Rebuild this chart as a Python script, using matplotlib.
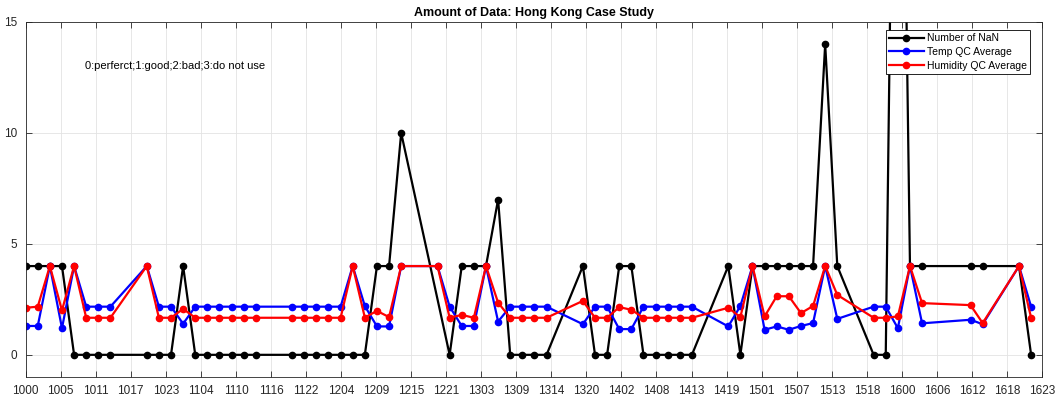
import numpy as np
import matplotlib
matplotlib.use('Agg')
import matplotlib.pyplot as plt

plt.rcParams['font.family'] = ['Liberation Sans', 'DejaVu Sans']

# hours since day 10 00:00
hours = [0, 2, 4, 6, 8, 10, 12, 14, 20, 22, 24, 26, 28, 30, 32, 34, 36, 38,
         44, 46, 48, 50, 52, 54, 56, 58, 60, 62, 68, 70, 72, 74, 76, 78, 80,
         82, 84, 86, 92, 94, 96, 98, 100, 102, 104, 106, 108, 110, 116, 118,
         120, 122, 124, 126, 128, 130, 132, 134, 140, 142, 144, 146, 148,
         156, 158, 164, 166]

nan_count = [4, 4, 4, 4, 0, 0, 0, 0, 0, 0, 0, 4, 0, 0, 0, 0, 0, 0,
             0, 0, 0, 0, 0, 0, 0, 4, 4, 10, np.nan, 0, 4, 4, 4, 7, 0,
             0, 0, 0, 4, 0, 0, 4, 4, 0, 0, 0, 0, 0, 4, 0,
             4, 4, 4, 4, 4, 4, 14, 4, 0, 0, 43, 4, 4,
             4, 4, 4, 0]

temp_qc = [1.3, 1.3, 4, 1.2, 4, 2.17, 2.17, 2.17, 4, 2.17, 2.17, 1.4, 2.17, 2.17, 2.17, 2.17, 2.17, 2.17,
           2.17, 2.17, 2.17, 2.17, 2.17, 4, 2.2, 1.28, 1.28, 4, 4, 2.17, 1.3, 1.3, 4, 1.5, 2.17,
           2.17, 2.17, 2.17, 1.38, 2.17, 2.17, 1.16, 1.16, 2.17, 2.17, 2.17, 2.17, 2.17, 1.28, 2.2,
           4, 1.13, 1.28, 1.13, 1.3, 1.43, 4, 1.62, 2.17, 2.17, 1.2, 4, 1.42,
           1.58, 1.38, 4, 2.17]

hum_qc = [2.12, 2.17, 4, 2.0, 4, 1.67, 1.67, 1.67, 4, 1.67, 1.67, 2.07, 1.67, 1.67, 1.67, 1.67, 1.67, 1.67,
          1.67, 1.67, 1.67, 1.67, 1.67, 4, 1.68, 1.98, 1.7, 4, 4, 1.67, 1.8, 1.67, 4, 2.35, 1.67,
          1.67, 1.67, 1.67, 2.43, 1.67, 1.67, 2.15, 2.03, 1.67, 1.67, 1.67, 1.67, 1.67, 2.12, 1.7,
          4, 1.73, 2.64, 2.64, 1.88, 2.2, 4, 2.7, 1.67, 1.67, 1.73, 4, 2.33,
          2.24, 1.43, 4, 1.67]

tick_labels = ['1000', '1005', '1011', '1017', '1023', '1104', '1110', '1116',
               '1122', '1204', '1209', '1215', '1221', '1303', '1309', '1314',
               '1320', '1402', '1408', '1413', '1419', '1501', '1507', '1513',
               '1518', '1600', '1606', '1612', '1618', '1623']

x_end = 167.8

fig = plt.figure(figsize=(10.55, 3.99), dpi=100)
ax = fig.add_axes([0.0243, 0.0551, 0.9634, 0.8898])

# skip the missing count so the line joins its neighbours
h = np.array(hours, dtype=float)
n = np.array(nan_count, dtype=float)
ok = ~np.isnan(n)

ax.plot(h[ok], n[ok], '-o', color='k', lw=1.6, ms=4.5, label='Number of NaN')
ax.plot(hours, temp_qc, '-o', color='#0000ff', lw=1.6, ms=4.5, label='Temp QC Average')
ax.plot(hours, hum_qc, '-o', color='#ff0000', lw=1.6, ms=4.5, label='Humidity QC Average')

ax.set_xlim(0, x_end)
ax.set_ylim(-1, 15)
ax.set_xticks(np.linspace(0, x_end, len(tick_labels)))
ax.set_xticklabels(tick_labels)
ax.set_yticks([0, 5, 10, 15])

ax.grid(True, color='#e3e3e3', lw=0.6)
ax.set_axisbelow(True)
ax.tick_params(direction='in', length=4, width=0.6, colors='#262626',
               labelsize=8.5, top=True, right=True, pad=6)
for s in ax.spines.values():
    s.set_color('#262626')
    s.set_linewidth(0.6)

ax.set_title('Amount of Data: Hong Kong Case Study', fontsize=9, fontweight='bold', pad=4)
ax.text(9.8, 13, '0:perferct;1:good;2:bad;3:do not use', fontsize=8, va='center', ha='left')

leg = ax.legend(loc='upper right', bbox_to_anchor=(0.988, 0.977), fontsize=7.5,
                fancybox=False, edgecolor='k', framealpha=1, handlelength=3.3,
                borderpad=0.3, labelspacing=0.35, borderaxespad=0, handletextpad=0.3)
leg.get_frame().set_linewidth(0.6)

fig.savefig('out.png', dpi=100)
